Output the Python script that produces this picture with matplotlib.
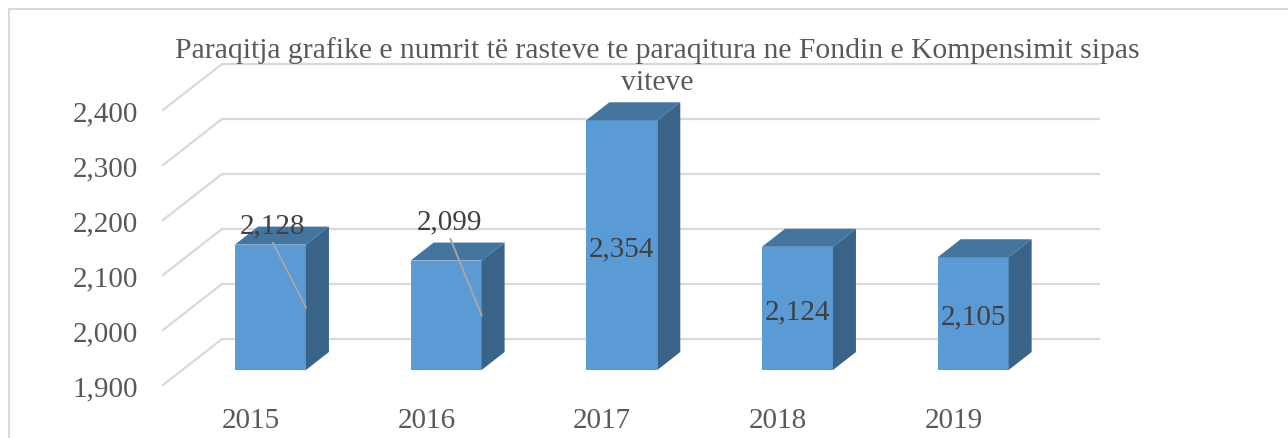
import matplotlib.pyplot as plt
from matplotlib.patches import Polygon, Rectangle

years = ['2015', '2016', '2017', '2018', '2019']
cases = [2128, 2099, 2354, 2124, 2105]
y_ticks = [1900, 2000, 2100, 2200, 2300, 2400]
title = ('Paraqitja grafike e numrit të rasteve te paraqitura ne Fondin e Kompensimit sipas\n'
         'viteve')

plt.rcParams['font.family'] = ['Liberation Serif', 'DejaVu Serif']

W, H = 1288, 438
fig = plt.figure(figsize=(W / 100, H / 100), dpi=100)

# axes = plane of the bars' front faces (pixel box)
left, right, top, bottom = 182.6, 1061.0, 95.0, 370.0
ax = fig.add_axes([left / W, 1 - bottom / H, (right - left) / W, (bottom - top) / H])
ax.set_xlim(-0.5, 4.5)
ax.set_ylim(1900, 2400)
ax.axis('off')

ux = (right - left) / 5.0      # px per category
uy = (bottom - top) / 500.0    # px per unit


def off(dx, dy):
    return dx / ux, dy / uy


bx, by = off(39.4, 31)     # back wall
fx, fy = off(-19.6, -15)   # front edge
dx, dy = off(23, 18)       # bar depth
bw = 0.404
grid = '#D9D9D9'

for v in y_ticks:
    ax.plot([-0.5 + bx, 4.5 + bx], [v + by, v + by], color=grid, lw=1.6,
            clip_on=False, zorder=1, solid_capstyle='butt')
    ax.plot([-0.5 + fx, -0.5 + bx], [v + fy, v + by], color=grid, lw=1.6,
            clip_on=False, zorder=1)
    ax.annotate(f'{v:,}', (-0.5 + fx, v + fy), xytext=(-18, -3), textcoords='offset points',
                ha='right', va='center', fontsize=21, color='#595959', annotation_clip=False)

base = y_ticks[0]
for i, v in enumerate(cases):
    x0, x1 = i - bw / 2, i + bw / 2
    ax.bar(i, v - base, bottom=base, width=bw, color='#5B9BD5', zorder=3, clip_on=False)
    ax.add_patch(Polygon([(x0, v), (x1, v), (x1 + dx, v + dy), (x0 + dx, v + dy)],
                         closed=True, facecolor='#44759F', edgecolor='none', zorder=3, clip_on=False))
    ax.add_patch(Polygon([(x1, base), (x1, v), (x1 + dx, v + dy), (x1 + dx, base + dy)],
                         closed=True, facecolor='#3A6487', edgecolor='none', zorder=3, clip_on=False))
    ax.annotate(years[i], (i + fx, base + fy), xytext=(0, -26), textcoords='offset points',
                ha='center', va='center', fontsize=21, color='#595959', annotation_clip=False)

# data labels: first two moved above the bar with leader lines
moved = {0: (0.01, 2169), 1: (1.02, 2176)}
for i, v in enumerate(cases):
    if i in moved:
        tx, ty = moved[i]
        ax.plot([tx + 0.005, i + bw / 2], [ty - 38, (base + v) / 2], color='#A6A6A6',
                lw=1.4, zorder=4, clip_on=False)
        pos = (tx, ty)
    else:
        pos = (i, (base + v) / 2)
    ax.annotate(f'{v:,}', pos, xytext=(0, -3), textcoords='offset points',
                ha='center', va='center', fontsize=21, color='#404040', zorder=5)

fig.text(657 / W, 1 - 67 / H, title, ha='center', va='center', fontsize=21.3,
         color='#595959', linespacing=1.3)

fig.add_artist(Rectangle((8.5 / W, -0.5), 2, 1.5 - 8.5 / H, transform=fig.transFigure,
                         facecolor='none', edgecolor='#D9D9D9', lw=1.5))

fig.savefig('out.png', dpi=100, facecolor='white')
